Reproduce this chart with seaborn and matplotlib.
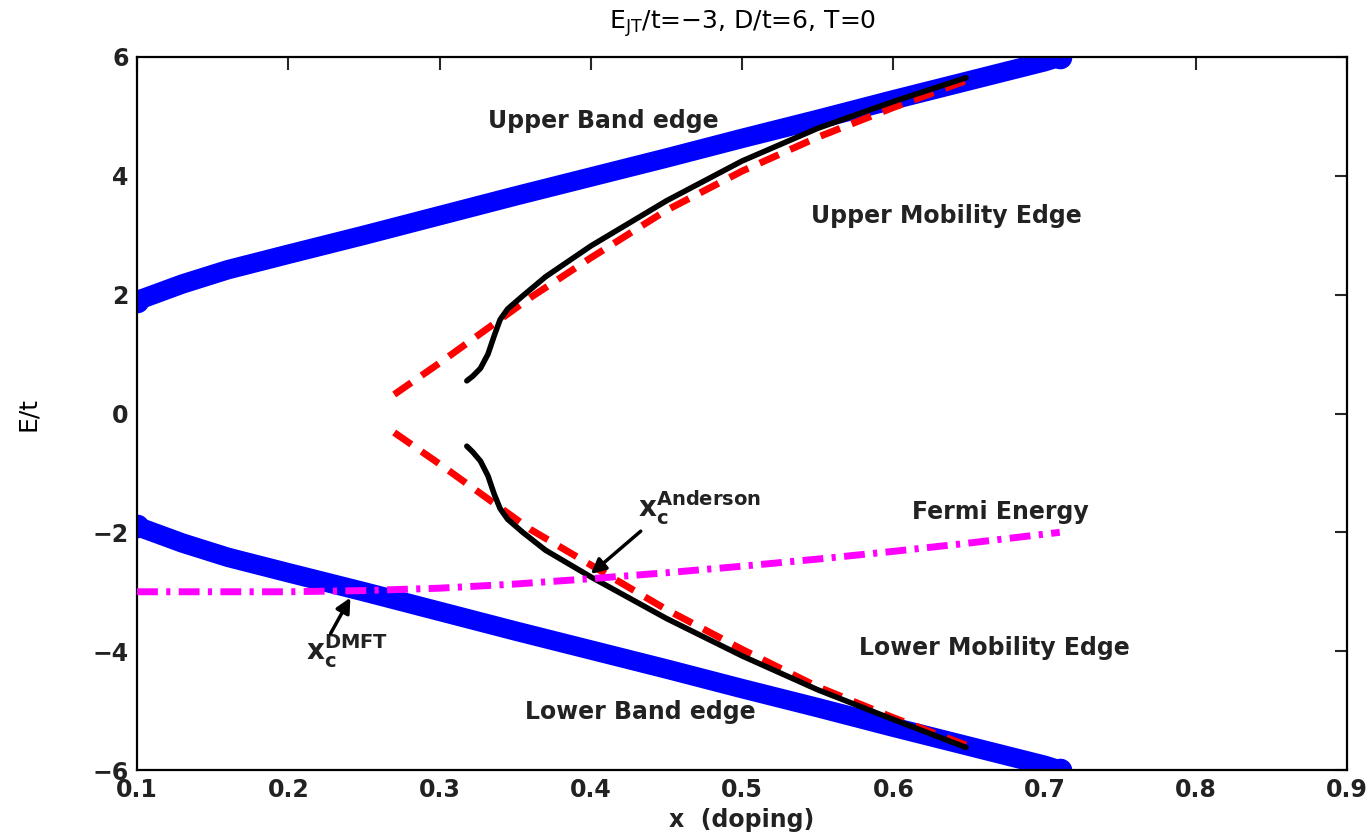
import numpy as np
import seaborn as sns
import matplotlib.pyplot as plt

# band edges (upper; lower is the mirror image)
band_x = [0.1, 0.13, 0.16, 0.2, 0.25, 0.3, 0.35, 0.4, 0.45, 0.5, 0.55, 0.6, 0.65, 0.7, 0.71]
band_up = [1.9, 2.18, 2.42, 2.68, 3.0, 3.33, 3.66, 3.98, 4.3, 4.63, 4.95, 5.28, 5.6, 5.92, 6.0]
band_lo = [-1.9, -2.18, -2.42, -2.68, -3.0, -3.33, -3.66, -3.98, -4.3, -4.63, -4.95, -5.28, -5.6, -5.92, -6.0]

# mobility edges, red dashed
red_x = [0.27, 0.3, 0.33, 0.36, 0.4, 0.45, 0.5, 0.55, 0.6, 0.65]
red_up = [0.32, 0.85, 1.4, 1.95, 2.62, 3.42, 4.08, 4.65, 5.15, 5.62]
red_lo = [-0.32, -0.85, -1.4, -1.95, -2.55, -3.3, -3.97, -4.6, -5.12, -5.6]

# mobility edges, black solid
blk_x = [0.318, 0.322, 0.327, 0.332, 0.336, 0.34, 0.345, 0.355, 0.37, 0.4, 0.45, 0.5, 0.55, 0.6, 0.648]
blk_up = [0.55, 0.63, 0.76, 1.0, 1.3, 1.58, 1.76, 1.98, 2.3, 2.82, 3.58, 4.25, 4.8, 5.25, 5.65]
blk_lo = [-0.55, -0.65, -0.8, -1.05, -1.35, -1.6, -1.78, -2.0, -2.3, -2.75, -3.45, -4.08, -4.65, -5.15, -5.62]

# Fermi energy
ef_x = [0.1, 0.2, 0.25, 0.3, 0.35, 0.4, 0.45, 0.5, 0.55, 0.6, 0.65, 0.71]
ef_y = [-3.0, -3.0, -2.98, -2.94, -2.87, -2.78, -2.68, -2.57, -2.45, -2.32, -2.18, -2.0]

sns.set_style("white")
plt.rcParams['font.family'] = ['DejaVu Sans']
plt.rcParams['mathtext.fontset'] = 'custom'
plt.rcParams['mathtext.rm'] = 'DejaVu Sans'
plt.rcParams['mathtext.bf'] = 'DejaVu Sans:bold'

fig = plt.figure(figsize=(13.72, 8.32), dpi=100)
ax = fig.add_axes([0.0999, 0.0745, 0.882, 0.857])

blue = '#0000ff'
for yy in (band_up, band_lo):
    sns.lineplot(x=band_x, y=yy, sort=False, estimator=None, ax=ax, color=blue,
                 lw=14, solid_capstyle='round', zorder=2)
    ax.plot([band_x[0], band_x[-1]], [yy[0], yy[-1]], 'o', color=blue, ms=16, zorder=2)

for yy in (red_up, red_lo):
    sns.lineplot(x=red_x, y=yy, sort=False, estimator=None, ax=ax, color='#ff0000',
                 lw=5, linestyle=(0, (3, 1.8)), zorder=3)
for yy in (blk_up, blk_lo):
    sns.lineplot(x=blk_x, y=yy, sort=False, estimator=None, ax=ax, color='black',
                 lw=4, zorder=4)
sns.lineplot(x=ef_x, y=ef_y, sort=False, estimator=None, ax=ax, color='#ff00ff',
             lw=5, linestyle=(0, (3, 1.2, 0.6, 1.2)), zorder=5)

ax.set_xlim(0.1, 0.9)
ax.set_ylim(-6, 6)
ax.set_xticks(np.arange(0.1, 0.91, 0.1))
ax.set_xticklabels(['0.1', '0.2', '0.3', '0.4', '0.5', '0.6', '0.7', '0.8', '0.9'])
ax.set_yticks([-6, -4, -2, 0, 2, 4, 6])
ax.tick_params(direction='in', length=9, width=1.5, top=True, right=True,
               labelsize=17, pad=6, labelcolor='#222222')
for lab in ax.get_xticklabels() + ax.get_yticklabels():
    lab.set_fontweight('bold')
for sp in ax.spines.values():
    sp.set_visible(True)
    sp.set_color('black')
    sp.set_linewidth(1.6)

ax.set_title(r'E$_{\rm JT}$/t=$-$3, D/t=6, T=0', fontsize=18, pad=20, color='black')
ax.set_xlabel('x  (doping)', fontsize=17, fontweight='bold', labelpad=4, color='#222222')
ax.set_ylabel('E/t', fontsize=18, labelpad=38, color='black')

kw = dict(fontsize=17, fontweight='bold', ha='center', va='center', color='#222222')
ax.text(0.408, 4.92, 'Upper Band edge', **kw)
ax.text(0.635, 3.33, 'Upper Mobility Edge', **kw)
ax.text(0.671, -1.65, 'Fermi Energy', **kw)
ax.text(0.667, -3.94, 'Lower Mobility Edge', **kw)
ax.text(0.433, -5.03, 'Lower Band edge', **kw)

ax.text(0.431, -1.58, r'$\mathbf{x_{c}^{Anderson}}$', fontsize=20, ha='left', va='center',
        color='#222222')
ax.text(0.212, -3.99, r'$\mathbf{x_{c}^{DMFT}}$', fontsize=20, ha='left', va='center',
        color='#222222')
arrow = dict(arrowstyle='-|>', color='black', lw=2.5, mutation_scale=22, shrinkA=0, shrinkB=0)
ax.annotate('', xy=(0.4, -2.7), xytext=(0.433, -1.98), arrowprops=arrow, zorder=6)
ax.annotate('', xy=(0.241, -3.1), xytext=(0.228, -3.7), arrowprops=arrow, zorder=6)

fig.savefig('out.png', dpi=100)
